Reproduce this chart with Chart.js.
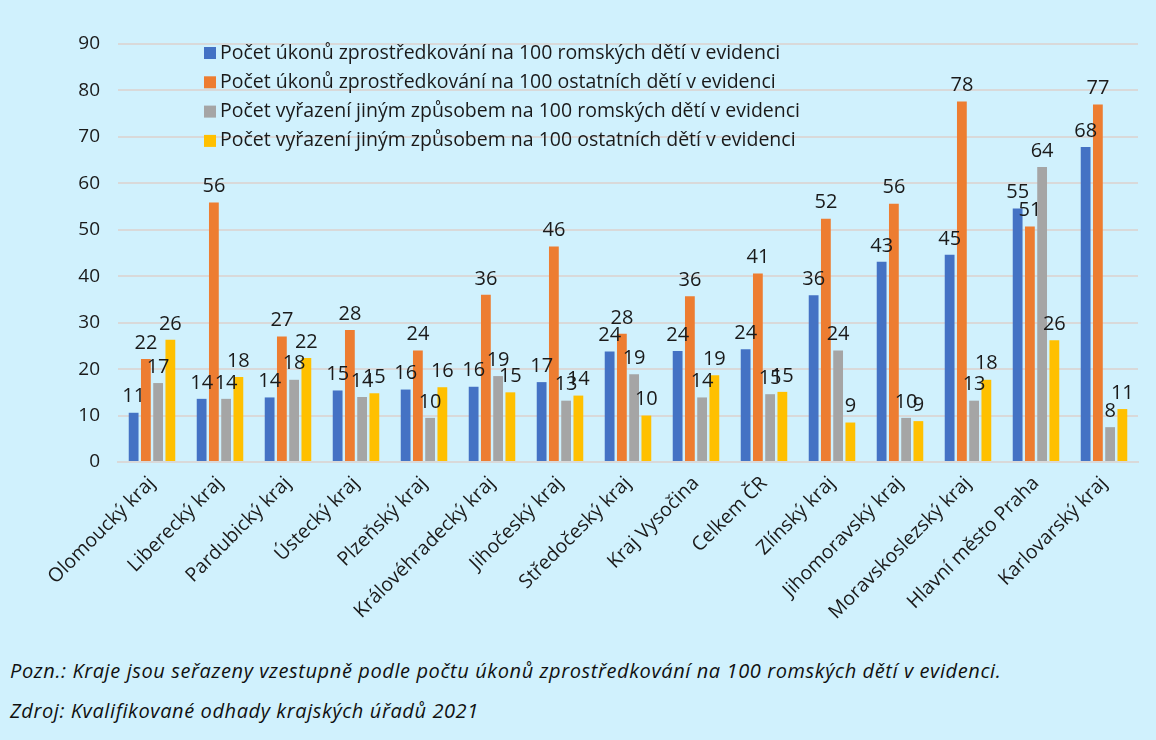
<html lang="cs">
  <head>
    <meta charset="utf-8" />
    <title>Kraje</title>
    <script src="https://cdn.jsdelivr.net/npm/chart.js@4.4.1/dist/chart.umd.min.js"></script>
  </head>
  <style>
    * { margin: 0; padding: 0; box-sizing: border-box; }
    body {
      width: 1156px;
      height: 740px;
      background: #d0f1fd;
      font-family: "Open Sans", "Noto Sans", sans-serif;
      position: relative;
      overflow: hidden;
    }
    .wrap {
      position: absolute;
      left: 0;
      top: 0;
      width: 1156px;
      height: 645px;
    }
    .note {
      position: absolute;
      left: 10px;
      font-size: 20px;
      font-style: italic;
      color: #111;
      letter-spacing: 0.6px;
      white-space: nowrap;
    }
  </style>
  <body>
    <div class="wrap"><canvas id="chart"></canvas></div>
    <div class="note" style="top:657px;">Pozn.: Kraje jsou seřazeny vzestupně podle počtu úkonů zprostředkování na 100 romských dětí v evidenci.</div>
    <div class="note" style="top:697px;">Zdroj: Kvalifikované odhady krajských úřadů 2021</div>
  <script>
    const regions = [
      'Olomoucký kraj', 'Liberecký kraj', 'Pardubický kraj', 'Ústecký kraj', 'Plzeňský kraj',
      'Královéhradecký kraj', 'Jihočeský kraj', 'Středočeský kraj', 'Kraj Vysočina', 'Celkem ČR',
      'Zlínský kraj', 'Jihomoravský kraj', 'Moravskoslezský kraj', 'Hlavní město Praha', 'Karlovarský kraj'
    ];

    const seriesNames = [
      'Počet úkonů zprostředkování na 100 romských dětí v evidenci',
      'Počet úkonů zprostředkování na 100 ostatních dětí v evidenci',
      'Počet vyřazení jiným způsobem na 100 romských dětí v evidenci',
      'Počet vyřazení jiným způsobem na 100 ostatních dětí v evidenci'
    ];

    const mediationRoma   = [10.6, 13.6, 13.9, 15.4, 15.6, 16.2, 17.2, 23.8, 23.9, 24.3, 35.9, 43.1, 44.6, 54.6, 67.8];
    const mediationOthers = [22.2, 55.9, 27.0, 28.4, 24.0, 36.0, 46.4, 27.6, 35.7, 40.6, 52.4, 55.6, 77.6, 50.7, 77.0];
    const removedRoma     = [17.0, 13.6, 17.7, 14.0, 9.5, 18.5, 13.2, 18.9, 13.9, 14.6, 24.0, 9.5, 13.2, 63.5, 7.5];
    const removedOthers   = [26.3, 18.3, 22.4, 14.8, 16.1, 15.0, 14.3, 10.0, 18.7, 15.1, 8.5, 8.8, 17.7, 26.2, 11.4];

    const colors = ['#4472c4', '#ed7d31', '#a5a5a5', '#ffc000'];
    const yTicks = [0, 10, 20, 30, 40, 50, 60, 70, 80, 90];

    const allSeries = [mediationRoma, mediationOthers, removedRoma, removedOthers];

    // popisky hodnot nad sloupci
    const valueLabels = {
      id: 'valueLabels',
      afterDatasetsDraw(chart) {
        const ctx = chart.ctx;
        ctx.save();
        ctx.font = '20px "Open Sans", sans-serif';
        ctx.fillStyle = '#1a1a1a';
        ctx.textAlign = 'center';
        ctx.textBaseline = 'bottom';
        chart.data.datasets.forEach((ds, i) => {
          chart.getDatasetMeta(i).data.forEach((bar, j) => {
            ctx.fillText(Math.round(ds.data[j]), bar.x, bar.y - 6);
          });
        });
        ctx.restore();
      }
    };

    // legenda uvnitř grafu
    const innerLegend = {
      id: 'innerLegend',
      afterDraw(chart) {
        const ctx = chart.ctx;
        ctx.save();
        ctx.font = '19.5px "Open Sans", sans-serif';
        ctx.textBaseline = 'middle';
        chart.data.datasets.forEach((ds, i) => {
          const y = 53 + i * 29.3;
          ctx.fillStyle = ds.backgroundColor;
          ctx.fillRect(204, y - 6, 12, 12);
          ctx.fillStyle = '#1a1a1a';
          ctx.fillText(ds.label, 220, y);
        });
        ctx.restore();
      }
    };

    new Chart(document.getElementById('chart'), {
      type: 'bar',
      plugins: [valueLabels, innerLegend],
      data: {
        labels: regions,
        datasets: allSeries.map((vals, i) => ({
          label: seriesNames[i],
          data: vals,
          backgroundColor: colors[i],
          barPercentage: 0.8,
          categoryPercentage: 0.72
        }))
      },
      options: {
        responsive: true,
        maintainAspectRatio: false,
        animation: false,
        layout: { padding: { top: 44, right: 18, left: 0, bottom: 0 } },
        plugins: {
          legend: { display: false },
          tooltip: { enabled: false }
        },
        scales: {
          x: {
            grid: { display: false },
            border: { display: true, color: '#d9d9d9', width: 2 },
            ticks: {
              color: '#1a1a1a',
              font: { size: 19.5, family: '"Open Sans", sans-serif' },
              minRotation: 45,
              maxRotation: 45,
              autoSkip: false,
              padding: 2
            },
            afterFit(axis) { axis.height = 645 - 462; }
          },
          y: {
            min: 0,
            max: 90,
            afterBuildTicks(axis) { axis.ticks = yTicks.map(v => ({ value: v })); },
            grid: { color: '#d9d9d9', lineWidth: 2, drawTicks: false },
            border: { display: false },
            ticks: {
              color: '#1a1a1a',
              font: { size: 19, family: '"Open Sans", sans-serif' },
              padding: 18
            },
            afterFit(axis) { axis.width = 118; }
          }
        }
      }
    });
  </script>
  </body>
</html>
